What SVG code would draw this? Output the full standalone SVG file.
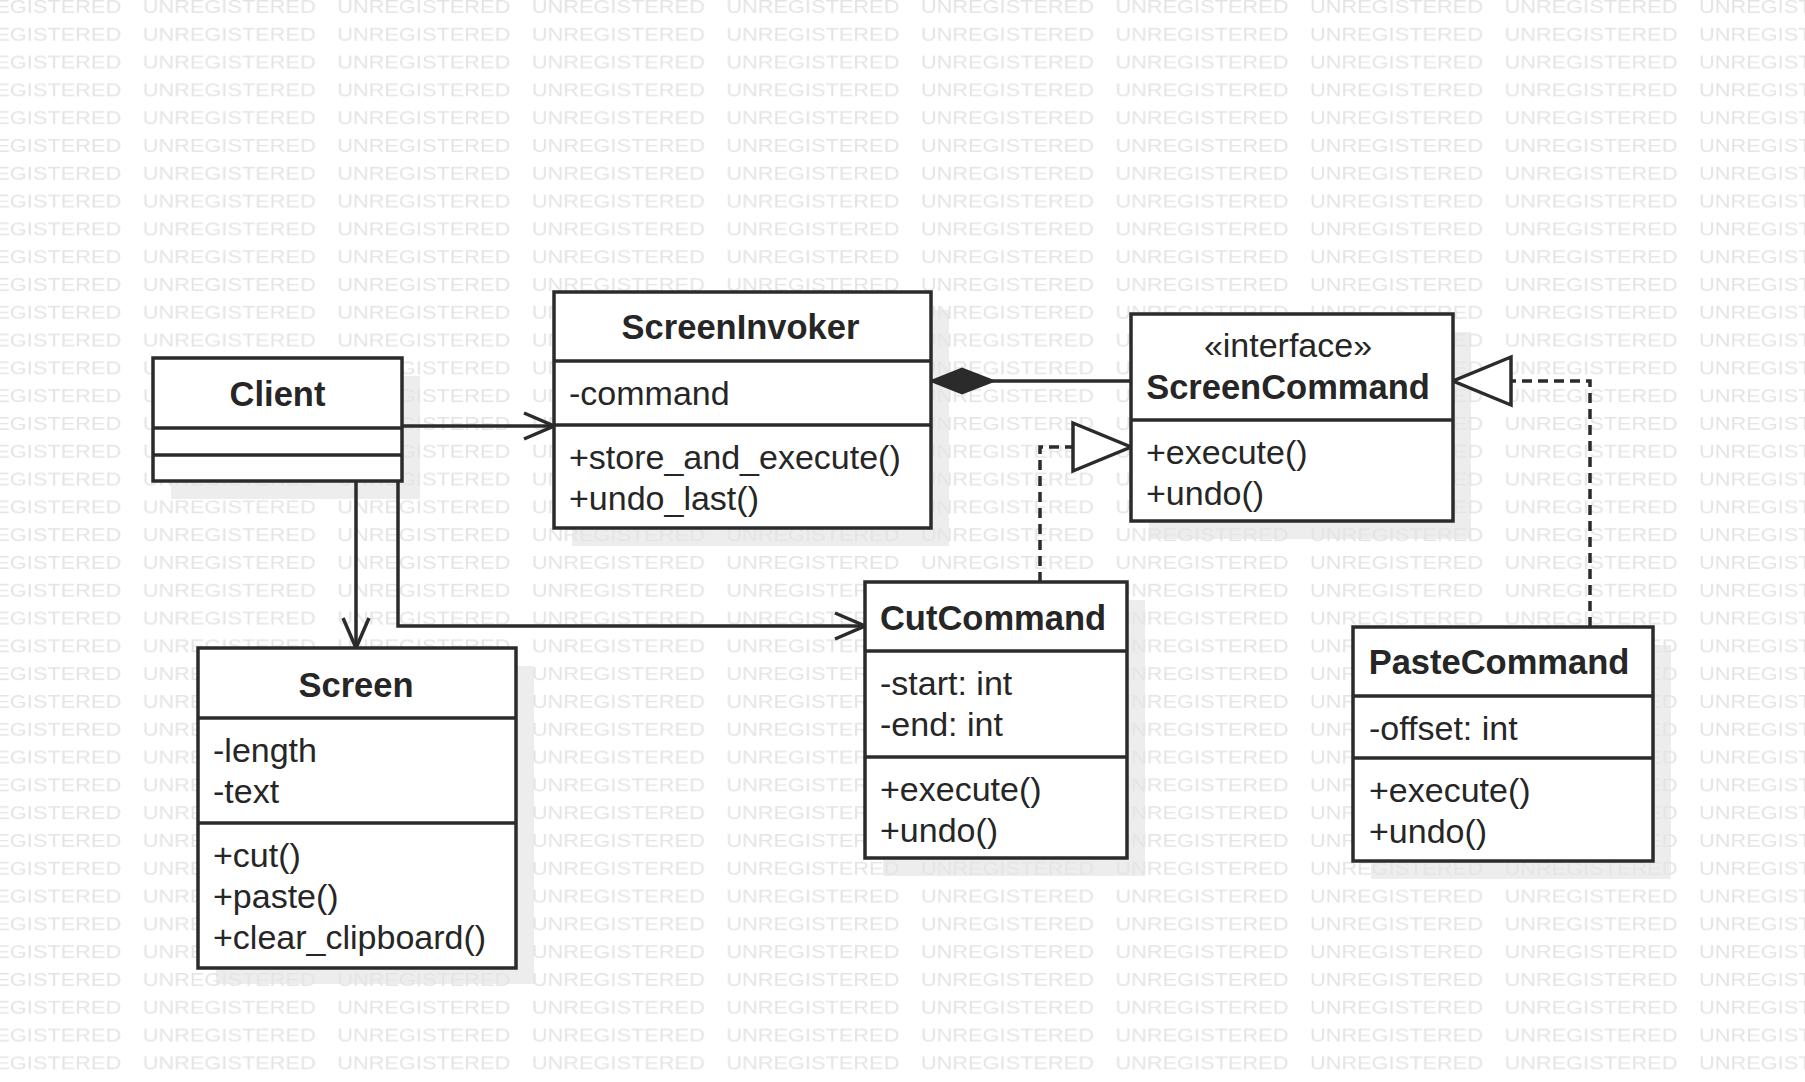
<svg xmlns="http://www.w3.org/2000/svg" width="1805" height="1082" viewBox="0 0 1805 1082">
<style>
.bg{fill:#ffffff}
.shadow{fill:#ededed}
.wm{font-family:"Liberation Sans",Arial,sans-serif;font-size:19px;fill:#e4e4e4}
.box{fill:#ffffff;stroke:#2b2b2b;stroke-width:3.5}
.sep{stroke:#2b2b2b;stroke-width:3.5}
.name{font-family:"Liberation Sans",Arial,sans-serif;font-weight:bold;font-size:34.5px;fill:#262626;text-anchor:middle}
.mem{font-family:"Liberation Sans",Arial,sans-serif;font-size:34px;fill:#262626}
.stereo{font-family:"Liberation Sans",Arial,sans-serif;font-size:34px;fill:#262626;text-anchor:middle}
.edge{fill:none;stroke:#2b2b2b;stroke-width:3.5}
.dash{stroke-dasharray:10 6}
</style>
<defs>
<pattern id="wmPat" patternUnits="userSpaceOnUse" x="-51.8" y="0" width="194.54" height="27.8">
<text class="wm" x="0" y="13.3" textLength="173" lengthAdjust="spacingAndGlyphs">UNREGISTERED</text>
</pattern>
<marker id="open" markerUnits="userSpaceOnUse" viewBox="-36 -20 40 40" refX="0" refY="0" markerWidth="40" markerHeight="40" orient="auto">
<path d="M-30,-13 L0,0 L-30,13" fill="none" stroke="#2b2b2b" stroke-width="3.5"/>
</marker>
<marker id="tri" markerUnits="userSpaceOnUse" viewBox="-64 -30 70 60" refX="0" refY="0" markerWidth="70" markerHeight="60" orient="auto">
<path d="M-58,-24 L0,0 L-58,24 Z" fill="#ffffff" stroke="#2b2b2b" stroke-width="3.5" stroke-dasharray="none"/>
</marker>
<marker id="diamond" markerUnits="userSpaceOnUse" viewBox="-68 -16 72 32" refX="0" refY="0" markerWidth="72" markerHeight="32" orient="auto">
<path d="M0,0 L-31,-12.5 L-63,0 L-31,12.5 Z" fill="#2b2b2b" stroke="#2b2b2b" stroke-width="2"/>
</marker>
</defs>

<rect class="bg" x="0" y="0" width="1805" height="1082"/>

<g id="shadows">
<rect class="shadow" x="171" y="376" width="249" height="123"/>
<rect class="shadow" x="572" y="310" width="377" height="236"/>
<rect class="shadow" x="1149" y="332" width="322" height="207"/>
<rect class="shadow" x="216" y="666" width="318" height="318"/>
<rect class="shadow" x="883" y="600" width="262" height="276"/>
<rect class="shadow" x="1371" y="645" width="300" height="234"/>
</g>

<rect x="0" y="0" width="1805" height="1082" fill="url(#wmPat)"/>

<g id="connectors">
<path class="edge" d="M402,426 L554,426" marker-end="url(#open)"/>
<path class="edge" d="M356,481 L356,648" marker-end="url(#open)"/>
<path class="edge" d="M398,481 L398,626 L865,626" marker-end="url(#open)"/>
<path class="edge" d="M1131,381 L931,381" marker-end="url(#diamond)"/>
<path class="edge dash" d="M1040,582 L1040,447 L1131,447" marker-end="url(#tri)"/>
<path class="edge dash" d="M1590,627 L1590,381 L1453,381" marker-end="url(#tri)"/>
</g>

<g id="Client">
<rect class="box" x="153" y="358" width="249" height="123"/>
<line class="sep" x1="153" y1="428" x2="402" y2="428"/>
<line class="sep" x1="153" y1="455" x2="402" y2="455"/>
<text class="name" x="277.5" y="406">Client</text>
</g>

<g id="ScreenInvoker">
<rect class="box" x="554" y="292" width="377" height="236"/>
<line class="sep" x1="554" y1="361" x2="931" y2="361"/>
<line class="sep" x1="554" y1="425" x2="931" y2="425"/>
<text class="name" x="740.5" y="339">ScreenInvoker</text>
<text class="mem" x="569" y="405">-command</text>
<text class="mem" x="569" y="469">+store_and_execute()</text>
<text class="mem" x="569" y="510">+undo_last()</text>
</g>

<g id="ScreenCommand">
<rect class="box" x="1131" y="314" width="322" height="207"/>
<line class="sep" x1="1131" y1="420" x2="1453" y2="420"/>
<text class="stereo" x="1288" y="357">«interface»</text>
<text class="name" x="1288" y="399">ScreenCommand</text>
<text class="mem" x="1146" y="464">+execute()</text>
<text class="mem" x="1146" y="505">+undo()</text>
</g>

<g id="Screen">
<rect class="box" x="198" y="648" width="318" height="320"/>
<line class="sep" x1="198" y1="718" x2="516" y2="718"/>
<line class="sep" x1="198" y1="823" x2="516" y2="823"/>
<text class="name" x="356" y="697">Screen</text>
<text class="mem" x="213" y="762">-length</text>
<text class="mem" x="213" y="803">-text</text>
<text class="mem" x="213" y="867">+cut()</text>
<text class="mem" x="213" y="908">+paste()</text>
<text class="mem" x="213" y="949">+clear_clipboard()</text>
</g>

<g id="CutCommand">
<rect class="box" x="865" y="582" width="262" height="276"/>
<line class="sep" x1="865" y1="651" x2="1127" y2="651"/>
<line class="sep" x1="865" y1="757" x2="1127" y2="757"/>
<text class="name" x="993" y="630">CutCommand</text>
<text class="mem" x="880" y="695">-start: int</text>
<text class="mem" x="880" y="736">-end: int</text>
<text class="mem" x="880" y="801">+execute()</text>
<text class="mem" x="880" y="842">+undo()</text>
</g>

<g id="PasteCommand">
<rect class="box" x="1353" y="627" width="300" height="234"/>
<line class="sep" x1="1353" y1="696" x2="1653" y2="696"/>
<line class="sep" x1="1353" y1="758" x2="1653" y2="758"/>
<text class="name" x="1499" y="674">PasteCommand</text>
<text class="mem" x="1369" y="740">-offset: int</text>
<text class="mem" x="1369" y="802">+execute()</text>
<text class="mem" x="1369" y="843">+undo()</text>
</g>
</svg>
